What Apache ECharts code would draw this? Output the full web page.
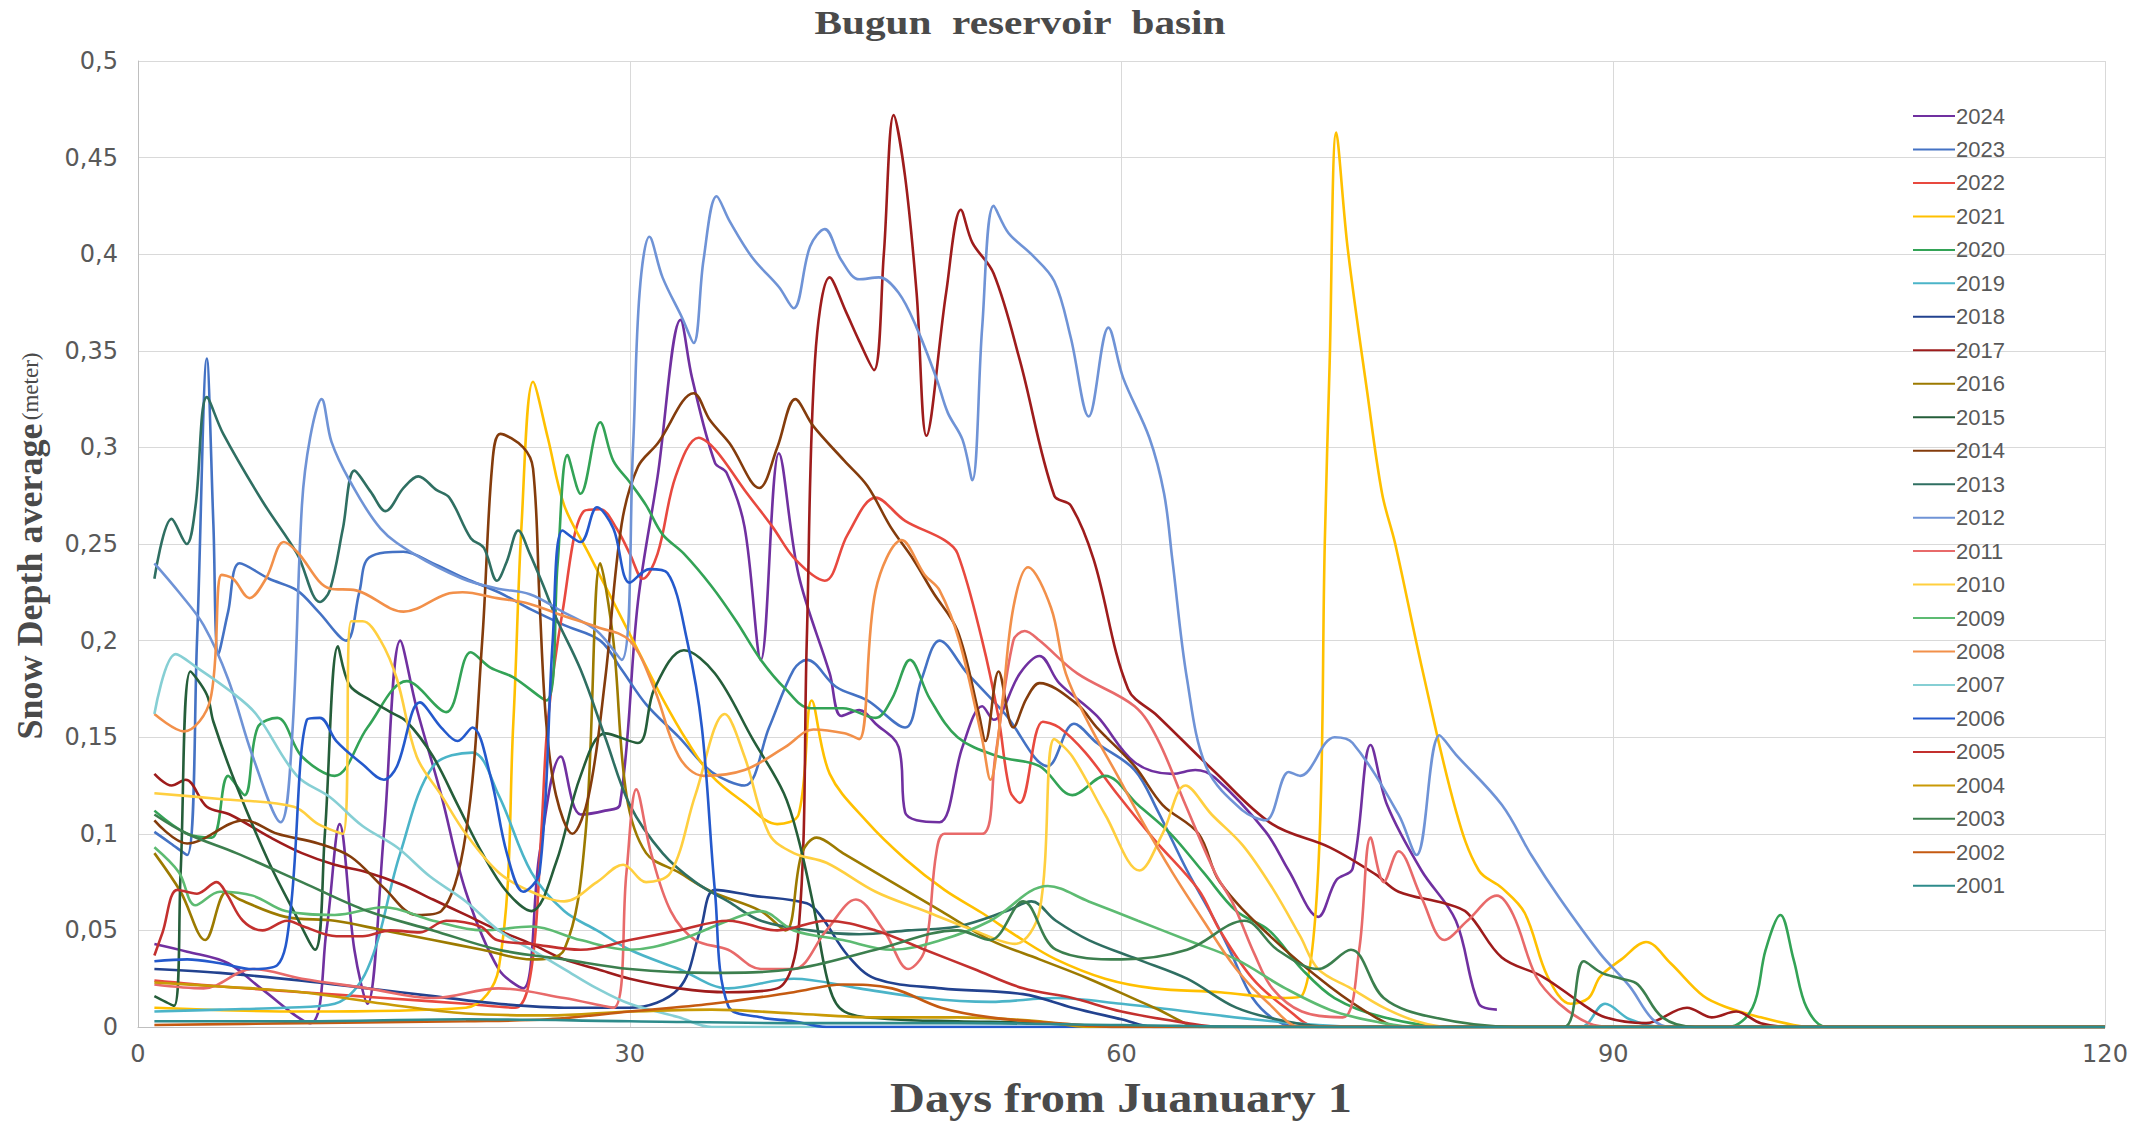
<!DOCTYPE html>
<html><head><meta charset="utf-8">
<script src="https://cdn.jsdelivr.net/npm/echarts@6/dist/echarts.min.js"></script>
<style>html,body{margin:0;padding:0;background:#fff}#c{width:2148px;height:1121px}</style>
</head><body><div id="c"></div>
<script>
const years = ['2024','2023','2022','2021','2020','2019','2018','2017','2016','2015','2014','2013','2012','2011','2010','2009','2008','2007','2006','2005','2004','2003','2002','2001'];
const colors = ['#7030A0','#4472C4','#E8493F','#FFC000','#33A356','#4BB4C8','#22428F','#9E1C1C','#9C7A00','#255E3A','#843C0C','#2F6F62','#6F93D6','#E86A6A','#FFCF3F','#5DBB72','#F2904A','#86CFD4','#2459CC','#C3302E','#C99A06','#3C7F4E','#C55A11','#2E8B8B'];

const y2024 = [[1,0.043],[3,0.039],[5.5,0.033],[7.5,0.02],[10.5,0.002],[11.5,0.05],[12.3,0.105],[13.2,0.04],[14,0.012],[15,0.1],[16,0.2],[17,0.165],[18.5,0.12],[20,0.07],[22,0.03],[23.5,0.02],[24.5,0.09],[25.8,0.14],[27,0.11],[28.5,0.112],[29.4,0.115],[30.5,0.22],[31.7,0.285],[33.1,0.366],[33.8,0.336],[35.2,0.292],[35.9,0.287],[37,0.259],[38,0.19],[39.1,0.297],[40.3,0.234],[42.2,0.183],[42.9,0.161],[44,0.164],[45,0.157],[46.4,0.145],[46.8,0.111],[47.5,0.107],[48.9,0.106],[50.3,0.145],[51.5,0.166],[52.2,0.159],[53.8,0.183],[55,0.192],[56.2,0.178],[58.5,0.161],[60.8,0.137],[63.1,0.131],[64.5,0.133],[65.7,0.129],[68.8,0.101],[70.2,0.081],[72,0.057],[73.1,0.076],[74.1,0.082],[75.2,0.146],[76.2,0.115],[78.3,0.081],[80.4,0.055],[81.8,0.012],[82.9,0.009]];
const y2023 = [[1,0.101],[2,0.095],[3,0.089],[3.6,0.2],[4.2,0.346],[4.6,0.26],[4.9,0.193],[5.5,0.215],[6.2,0.24],[8,0.232],[9.7,0.226],[11,0.215],[12.7,0.2],[13.5,0.225],[14.1,0.243],[16.2,0.246],[18,0.24],[20,0.232],[22,0.225],[24,0.216],[26,0.208],[28.2,0.2],[29.5,0.185],[31,0.167],[33,0.15],[35,0.132],[37,0.125],[38.5,0.155],[40,0.185],[40.8,0.19],[42.6,0.176],[44.5,0.169],[46.8,0.155],[47.8,0.18],[48.9,0.2],[50.6,0.183],[52.9,0.162],[55.5,0.135],[57.1,0.157],[58.5,0.147],[60.8,0.133],[62.2,0.112],[64,0.081],[65.7,0.055],[66.7,0.038],[68,0.015],[69.5,0.003],[71,0],[120,0]];
const y2022 = [[1,0.024],[5,0.021],[10,0.018],[15,0.015],[20,0.012],[23,0.01],[24,0.03],[24.6,0.1],[25,0.158],[25.9,0.215],[27.2,0.267],[28.2,0.268],[29.2,0.258],[30,0.245],[30.8,0.232],[31.7,0.245],[32.8,0.285],[34.2,0.305],[35.2,0.299],[37,0.278],[38.7,0.259],[40.1,0.242],[41.9,0.231],[43.3,0.255],[45,0.274],[46.8,0.262],[49.2,0.252],[50,0.245],[51.5,0.2],[52.5,0.16],[53.2,0.122],[53.8,0.116],[55.2,0.158],[56.2,0.155],[57.8,0.142],[59.7,0.121],[62,0.097],[64.7,0.071],[66,0.05],[68,0.025],[70,0.01],[72,0],[120,0]];
const y2021 = [[1,0.01],[10,0.008],[20,0.01],[22,0.03],[22.9,0.158],[23.4,0.26],[24.1,0.334],[25,0.305],[26,0.27],[27.5,0.245],[29,0.22],[30.5,0.195],[32,0.17],[33.5,0.148],[35,0.13],[37,0.116],[39,0.105],[40.3,0.11],[41.1,0.169],[42.2,0.131],[44.5,0.106],[46.8,0.087],[49.2,0.071],[51.5,0.059],[53.8,0.046],[56,0.035],[59,0.025],[62,0.02],[66,0.018],[70,0.015],[71,0.016],[72,0.081],[72.4,0.25],[72.7,0.344],[73.1,0.463],[73.8,0.403],[75,0.328],[75.9,0.276],[76.7,0.25],[78.3,0.187],[80.4,0.112],[81.8,0.081],[83.2,0.072],[84.6,0.059],[86,0.026],[87.4,0.012],[88.5,0.015],[89.2,0.026],[90.5,0.035],[92,0.044],[93.5,0.033],[95.5,0.016],[97,0.01],[99,0.005],[101,0.001],[102,0],[120,0]];
const y2020 = [[1,0.112],[3,0.1],[4.5,0.098],[5.5,0.13],[6.5,0.12],[7.3,0.155],[8.5,0.16],[10,0.14],[12,0.13],[14,0.155],[16.4,0.179],[18.8,0.163],[20.3,0.194],[21.5,0.186],[22.9,0.181],[24.9,0.169],[25.6,0.24],[26.2,0.296],[27,0.276],[28.2,0.313],[29,0.293],[30,0.282],[31,0.27],[32,0.255],[33.3,0.245],[35,0.228],[36.5,0.21],[38,0.19],[39.5,0.175],[41,0.165],[43,0.165],[45,0.16],[46,0.17],[47.1,0.19],[48.3,0.17],[50,0.15],[52.5,0.14],[55,0.135],[57,0.12],[59,0.13],[61,0.115],[63,0.1],[65,0.08],[67,0.06],[69,0.05],[71,0.03],[73,0.015],[76,0.005],[80,0],[97,0],[98.5,0.01],[99.3,0.04],[100.2,0.058],[101,0.035],[101.8,0.01],[103,0],[120,0]];
const y2019 = [[1,0.008],[5,0.009],[9,0.01],[12,0.012],[14,0.03],[16,0.09],[18,0.135],[20.4,0.142],[22,0.12],[24,0.08],[26,0.06],[28,0.05],[30,0.04],[33,0.03],[36,0.02],[40,0.025],[44,0.02],[48,0.015],[52,0.013],[56,0.015],[60,0.012],[64,0.008],[68,0.004],[72,0.001],[75,0],[88,0],[89.5,0.012],[91,0.004],[93,0],[120,0]];
const y2018 = [[1,0.03],[5,0.028],[10,0.024],[14,0.02],[18,0.016],[22,0.012],[26,0.01],[30,0.01],[33,0.02],[34.3,0.05],[35.2,0.071],[37.5,0.068],[40.8,0.064],[41.7,0.057],[43.3,0.037],[45,0.025],[49,0.02],[54,0.017],[57,0.01],[60,0.004],[62,0],[120,0]];
const y2017 = [[1,0.131],[2.05,0.125],[2.9,0.128],[4.2,0.114],[5.6,0.11],[8.1,0.098],[10,0.09],[12,0.084],[14,0.08],[16,0.074],[18,0.066],[20,0.058],[22,0.05],[24,0.043],[26,0.035],[28,0.03],[30,0.025],[33,0.02],[36,0.018],[39,0.02],[40.3,0.05],[40.8,0.2],[41.3,0.345],[42.2,0.388],[43.2,0.37],[44,0.355],[44.9,0.34],[45.5,0.4],[46.1,0.472],[46.8,0.44],[47.5,0.38],[48.1,0.306],[49.3,0.38],[50.2,0.423],[50.9,0.406],[52.2,0.39],[53.8,0.345],[55.9,0.275],[56.9,0.27],[58.3,0.242],[60.4,0.175],[62.2,0.161],[65.7,0.132],[69.2,0.105],[72.7,0.093],[75.5,0.079],[76.9,0.07],[79.7,0.064],[81.1,0.059],[83.2,0.036],[85.7,0.026],[88.1,0.012],[89.5,0.005],[92,0.002],[94.5,0.01],[96,0.005],[97.5,0.008],[99,0.002],[101,0],[120,0]];
const y2016 = [[1,0.09],[2.6,0.07],[4.1,0.045],[5.4,0.07],[6.2,0.066],[9,0.057],[12,0.055],[15,0.05],[18,0.045],[21,0.04],[24,0.035],[26,0.04],[27.3,0.1],[28.2,0.24],[29,0.2],[29.8,0.12],[31,0.09],[33,0.08],[35,0.07],[38,0.06],[39.5,0.05],[40.5,0.09],[41.4,0.098],[43,0.09],[46,0.075],[49,0.06],[52,0.045],[55,0.035],[58,0.025],[62,0.01],[65,0],[120,0]];
const y2015 = [[1,0.016],[2.2,0.011],[2.6,0.08],[3.2,0.184],[4.2,0.172],[4.6,0.158],[6,0.125],[8,0.085],[9.5,0.06],[10.8,0.04],[11.4,0.1],[12.2,0.197],[12.9,0.177],[14.2,0.169],[15.4,0.163],[16.4,0.158],[18,0.14],[19.5,0.115],[21,0.09],[22.5,0.07],[24,0.06],[25.5,0.085],[27,0.13],[28.5,0.152],[30.5,0.147],[31.5,0.175],[33.3,0.195],[35.2,0.183],[37.5,0.149],[39.4,0.121],[40.3,0.097],[41.2,0.063],[42.2,0.02],[43.1,0.008],[46,0.004],[50,0.003],[55,0.002],[60,0],[120,0]];
const y2014 = [[1,0.107],[3,0.095],[6.5,0.107],[8.5,0.1],[11,0.095],[13,0.088],[15,0.072],[17,0.058],[18.5,0.06],[20,0.1],[21,0.2],[21.6,0.29],[22.1,0.307],[23.5,0.3],[24.1,0.289],[24.5,0.22],[24.9,0.158],[25.5,0.12],[26.5,0.1],[27.5,0.12],[28.5,0.18],[29.5,0.26],[30.5,0.29],[31.7,0.302],[33.9,0.328],[34.9,0.314],[36.1,0.302],[37.9,0.279],[39,0.3],[40.1,0.325],[41.2,0.311],[43.1,0.293],[44.5,0.28],[45.9,0.259],[47.3,0.242],[48.5,0.225],[50,0.205],[51.3,0.162],[51.7,0.148],[52.5,0.184],[53.4,0.155],[54.2,0.17],[55,0.178],[57.3,0.167],[58.5,0.155],[60.8,0.135],[62.5,0.115],[64.7,0.1],[66,0.075],[69.2,0.046],[72.7,0.021],[75.5,0.005],[77,0],[120,0]];
const y2013 = [[1,0.232],[2.05,0.263],[2.97,0.25],[3.5,0.269],[4.2,0.326],[5.2,0.307],[7.6,0.272],[9.7,0.245],[11.1,0.22],[11.7,0.226],[12.5,0.258],[13.2,0.288],[14.2,0.277],[15.1,0.267],[16.2,0.279],[17.1,0.285],[18.2,0.278],[19,0.274],[20.3,0.253],[21.1,0.248],[21.9,0.231],[22.5,0.241],[23.2,0.257],[23.9,0.245],[24.7,0.229],[25.5,0.212],[27,0.185],[28.5,0.15],[30,0.115],[32,0.09],[34,0.075],[36,0.065],[38,0.055],[41,0.05],[44,0.048],[47,0.05],[50,0.052],[53,0.06],[54.5,0.065],[56,0.055],[58,0.045],[61,0.035],[64,0.025],[67,0.01],[70,0.003],[73,0],[120,0]];
const y2012 = [[1,0.24],[2.5,0.225],[4,0.208],[5.5,0.18],[7,0.14],[8.7,0.106],[9.4,0.15],[10,0.27],[10.5,0.305],[11.2,0.325],[11.8,0.303],[12.9,0.283],[14.8,0.258],[16.8,0.245],[19.8,0.232],[21.9,0.227],[23.9,0.224],[25.9,0.215],[28,0.205],[29.5,0.19],[30.2,0.3],[30.6,0.38],[31.2,0.409],[32,0.388],[33.2,0.367],[33.9,0.354],[34.5,0.397],[35.3,0.43],[36.1,0.417],[37.5,0.398],[39.1,0.383],[40,0.372],[41,0.404],[41.9,0.413],[42.9,0.397],[44,0.387],[45.2,0.388],[46.4,0.38],[47.5,0.362],[48.7,0.336],[49.4,0.318],[50.3,0.304],[50.9,0.283],[51.5,0.362],[52.2,0.425],[53.1,0.411],[54.5,0.4],[55.9,0.386],[56.9,0.357],[58,0.316],[59.2,0.362],[60.1,0.336],[61.7,0.305],[62.6,0.276],[63.1,0.242],[64,0.18],[65.2,0.134],[67.4,0.112],[68.8,0.107],[70.2,0.132],[70.9,0.13],[73,0.15],[74.1,0.147],[76.9,0.11],[78,0.089],[79.4,0.151],[80.4,0.141],[83.2,0.115],[85,0.089],[86.7,0.067],[89.2,0.038],[91,0.021],[92.4,0.004],[93.5,0],[120,0]];
const y2011 = [[1,0.022],[4,0.02],[7,0.03],[10,0.025],[14,0.02],[18,0.015],[22,0.02],[26,0.015],[29,0.01],[29.8,0.08],[30.4,0.123],[31.3,0.09],[32.5,0.06],[34,0.045],[36,0.04],[38,0.03],[40,0.03],[42,0.05],[43.8,0.066],[45.5,0.05],[47,0.03],[48,0.04],[48.7,0.09],[49.2,0.1],[51.5,0.1],[52.3,0.14],[53.4,0.2],[54.1,0.205],[55,0.2],[57.3,0.183],[60.8,0.166],[62.2,0.149],[63.9,0.115],[65.7,0.08],[66.8,0.064],[68.1,0.038],[69.2,0.02],[71,0.008],[73.5,0.005],[74.5,0.04],[75.2,0.098],[76,0.075],[76.9,0.091],[78.3,0.067],[79.7,0.045],[81.1,0.055],[82.9,0.068],[83.9,0.058],[85.3,0.026],[86.7,0.012],[88.5,0.002],[90,0],[120,0]];
const y2010 = [[1,0.121],[5,0.118],[9.5,0.114],[11,0.105],[12.5,0.1],[13,0.21],[13.7,0.21],[14.8,0.2],[15.8,0.18],[17,0.14],[18.5,0.12],[20,0.1],[22,0.08],[24,0.07],[26,0.065],[28,0.075],[29.6,0.084],[31,0.075],[32.5,0.08],[34,0.12],[35.8,0.162],[37,0.14],[38.5,0.1],[40,0.09],[42,0.085],[45,0.07],[48,0.06],[51,0.05],[53.5,0.043],[55,0.06],[55.9,0.149],[57,0.14],[59,0.11],[61.1,0.081],[62.5,0.1],[63.9,0.125],[65.5,0.11],[67.4,0.094],[69.2,0.072],[70.9,0.047],[72,0.03],[74,0.02],[76,0.01],[78,0.003],[80,0],[120,0]];
const y2009 = [[1,0.093],[2.5,0.08],[3.5,0.063],[5,0.07],[7,0.068],[9,0.06],[12,0.058],[15,0.062],[18,0.055],[21,0.05],[24,0.052],[27,0.045],[30,0.04],[33,0.045],[36,0.055],[38,0.06],[40,0.05],[43,0.045],[46,0.04],[49,0.045],[52,0.055],[55.5,0.073],[58,0.065],[61,0.055],[64,0.045],[67,0.035],[70,0.02],[73,0.008],[76,0.002],[78,0],[120,0]];
const y2008 = [[1,0.162],[2.8,0.153],[4.4,0.169],[5.1,0.234],[5.8,0.232],[6.8,0.222],[7.8,0.232],[8.9,0.251],[9.7,0.246],[11.7,0.227],[13.3,0.226],[16.2,0.215],[18.8,0.224],[19.8,0.225],[21.9,0.222],[23.9,0.219],[25.9,0.213],[28,0.207],[30,0.2],[31.5,0.175],[33,0.14],[34.5,0.13],[37,0.133],[39.5,0.145],[41.2,0.154],[43.1,0.152],[44,0.149],[45,0.226],[46.6,0.252],[48,0.234],[48.9,0.226],[50.1,0.2],[51.5,0.149],[52,0.128],[52.7,0.166],[53.4,0.217],[54.3,0.238],[55.7,0.217],[56.6,0.183],[58,0.157],[59.7,0.131],[61.3,0.106],[63.1,0.08],[65,0.055],[67,0.03],[69,0.012],[71,0],[120,0]];
const y2007 = [[1,0.162],[2.3,0.193],[3.6,0.186],[5.6,0.174],[7.2,0.162],[9.7,0.13],[11.7,0.119],[13.7,0.104],[15.8,0.093],[17.8,0.078],[20,0.065],[22,0.05],[24,0.04],[26,0.03],[28,0.02],[30,0.012],[33,0.005],[35,0],[120,0]];
const y2006 = [[1,0.034],[3,0.035],[5,0.033],[7,0.03],[8.5,0.032],[9.3,0.06],[10.3,0.159],[11.1,0.16],[12.1,0.148],[13.7,0.136],[15,0.128],[15.8,0.135],[17.2,0.168],[18.5,0.155],[19.5,0.148],[20.4,0.155],[21.5,0.13],[22.5,0.09],[23.5,0.07],[24.5,0.08],[25.3,0.2],[25.9,0.257],[27,0.251],[28,0.269],[29,0.258],[30,0.23],[31.2,0.237],[32.3,0.235],[33.5,0.2],[34.4,0.155],[35.2,0.07],[36,0.011],[38,0.005],[40,0.003],[42,0],[120,0]];
const y2005 = [[1,0.037],[1.5,0.049],[2.4,0.071],[3.6,0.069],[4.8,0.075],[5.4,0.069],[6.4,0.055],[7.6,0.05],[9.1,0.055],[10.1,0.052],[12.1,0.047],[13.7,0.047],[15.4,0.05],[17.2,0.049],[18.8,0.055],[20.9,0.052],[21.9,0.045],[24,0.043],[27,0.04],[30,0.045],[33,0.05],[36,0.055],[39,0.05],[42,0.055],[45,0.05],[48,0.04],[51,0.03],[54,0.02],[57,0.015],[60,0.008],[64,0.002],[66,0],[120,0]];
const y2004 = [[1,0.023],[5,0.021],[10,0.018],[15,0.012],[20,0.007],[25,0.006],[30,0.008],[35,0.009],[40,0.007],[45,0.005],[50,0.005],[55,0.003],[58,0],[120,0]];
const y2003 = [[1,0.11],[3,0.1],[6,0.09],[10,0.075],[14,0.06],[18,0.05],[22,0.04],[26,0.035],[30,0.03],[35,0.028],[40,0.03],[45,0.04],[50,0.05],[52,0.045],[54,0.065],[56,0.04],[60,0.035],[64,0.04],[67.5,0.055],[69.5,0.04],[72,0.03],[74,0.04],[76,0.015],[79,0.005],[84,0],[87,0],[88.2,0.034],[89.3,0.028],[90.5,0.025],[91.5,0.022],[93,0.005],[95,0],[120,0]];
const y2002 = [[1,0.001],[10,0.002],[20,0.003],[25,0.004],[30,0.008],[35,0.012],[40,0.018],[43,0.022],[46,0.02],[49,0.01],[52,0.005],[56,0.002],[60,0],[120,0]];
const y2001 = [[1,0.003],[10,0.003],[20,0.004],[30,0.003],[40,0.002],[50,0.002],[60,0.001],[70,0],[120,0]];

const seriesValues = [y2024,y2023,y2022,y2021,y2020,y2019,y2018,y2017,y2016,y2015,y2014,y2013,y2012,y2011,y2010,y2009,y2008,y2007,y2006,y2005,y2004,y2003,y2002,y2001];
const xTicks = [0, 30, 60, 90, 120];
const yTickStep = 0.05;

const chart = echarts.init(document.getElementById('c'), null, {renderer: 'svg', width: 2148, height: 1121});
const series = years.map((y, i) => ({
  name: y, type: 'line', data: seriesValues[i], smooth: 0.35, symbol: 'none', showSymbol: false,
  clip: true, lineStyle: {width: 2.6, color: colors[i]}, itemStyle: {color: colors[i]}, z: 2
}));
chart.setOption({
  animation: false,
  backgroundColor: '#ffffff',
  grid: {left: 138, right: 43, top: 61, bottom: 94, containLabel: false},
  xAxis: {
    type: 'value', min: xTicks[0], max: xTicks[xTicks.length - 1], interval: 30,
    axisLine: {show: true, lineStyle: {color: '#bfbfbf', width: 1}},
    axisTick: {show: false},
    splitLine: {show: true, lineStyle: {color: '#d9d9d9', width: 1}},
    axisLabel: {fontFamily: 'DejaVu Sans', fontSize: 24, color: '#595959', margin: 15}
  },
  yAxis: {
    type: 'value', min: 0, max: 0.5, interval: yTickStep,
    axisLine: {show: true, lineStyle: {color: '#bfbfbf', width: 1}},
    axisTick: {show: false},
    splitLine: {show: true, lineStyle: {color: '#d9d9d9', width: 1}},
    axisLabel: {fontFamily: 'DejaVu Sans', fontSize: 24, color: '#595959', margin: 20,
      formatter: v => v === 0 ? '0' : String(Math.round(v * 100) / 100).replace('.', ',')}
  },
  legend: {
    orient: 'vertical', left: 1908, top: 100, itemWidth: 42, itemHeight: 20, itemGap: 11.47,
    data: years, icon: 'path://M0,9 L42,9 L42,11 L0,11 Z',
    textStyle: {fontFamily: 'Liberation Sans', fontSize: 22, color: '#595959', padding: [0,0,0,-4]}
  },
  graphic: [
    {type: 'text', x: 1020, y: 23, scaleX: 1.25, style: {text: 'Bugun  reservoir  basin', font: 'bold 33px "Liberation Serif"', fill: '#4a4a4a', textAlign: 'center', textVerticalAlign: 'middle'}},
    {type: 'text', x: 1121, y: 1098, scaleX: 1.15, style: {text: 'Days from Juanuary 1', font: 'bold 42px "Liberation Serif"', fill: '#4a4a4a', textAlign: 'center', textVerticalAlign: 'middle'}},
    {type: 'text', x: 30, y: 546, rotation: Math.PI / 2, style: {
      text: '{b|Snow Depth average} {s|(meter)}', textAlign: 'center', textVerticalAlign: 'middle', fill: '#4a4a4a',
      rich: {b: {font: 'bold 36px "Liberation Serif"', fill: '#4a4a4a'}, s: {font: '23px "Liberation Serif"', fill: '#4a4a4a'}}
    }}
  ],
  series: series
});
</script></body></html>
